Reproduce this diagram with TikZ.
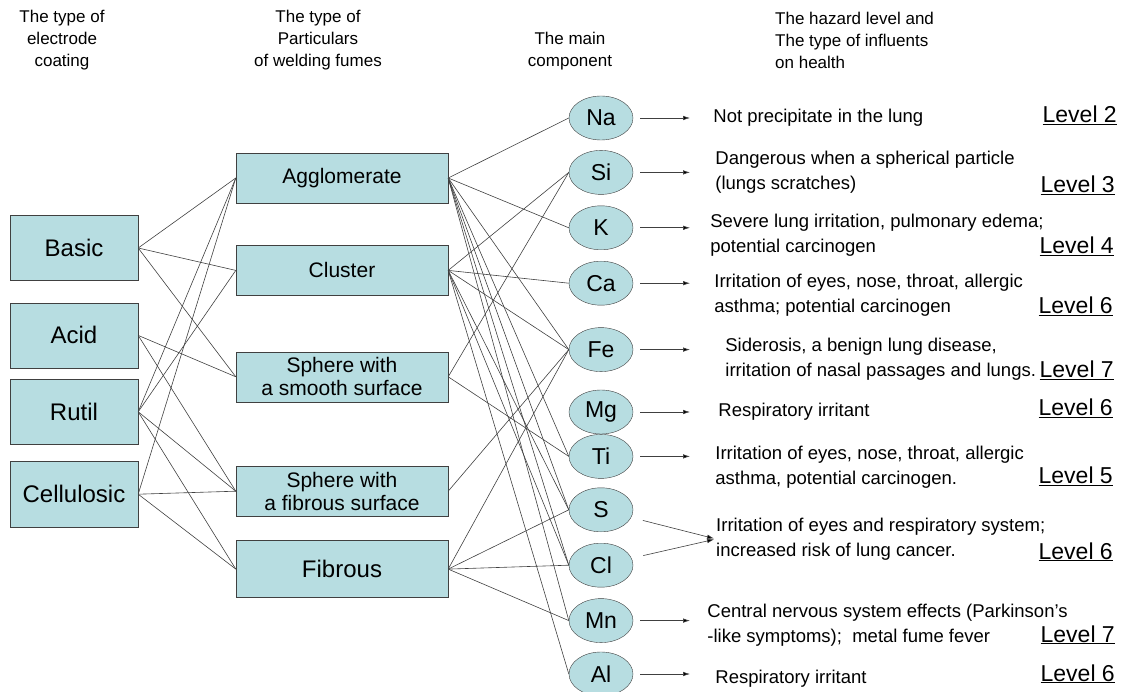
\documentclass[tikz,border=0pt]{standalone}
\usepackage{fontspec}
\setmainfont{Liberation Sans}
\usetikzlibrary{arrows,arrows.meta,positioning,shapes}
\definecolor{boxfill}{RGB}{183,221,225}
\tikzstyle{coating}=[rectangle,draw=black!75,fill=boxfill,minimum width=128pt,
minimum height=65pt,font=\fontsize{24}{28}\selectfont]
\tikzstyle{particle}=[rectangle,draw=black!75,fill=boxfill,minimum width=212pt,
minimum height=50pt,inner sep=2pt,align=center,font=\fontsize{21}{23}\selectfont]
\tikzstyle{element}=[ellipse,draw=black!75,fill=boxfill,minimum width=64pt,
minimum height=44pt,inner sep=0pt,font=\fontsize{23}{25}\selectfont]
\tikzstyle{effect}=[inner sep=0pt,align=left,font=\fontsize{18.5}{25}\selectfont]
\tikzstyle{level}=[inner sep=0pt,anchor=base east,font=\fontsize{23}{25}\selectfont]
\tikzstyle{header}=[inner sep=0pt,align=center,font=\fontsize{17}{22}\selectfont]
\tikzstyle{link}=[draw=black!75,line width=0.6pt]

\begin{document}
\begin{tikzpicture}[x=1pt,y=1pt,>={Latex[length=7pt,width=4.5pt]}]
            \useasboundingbox (0,0) rectangle (1133,-692);

            % HEADERS

            \node[header] (h1) at (62,-40) {The type of\\electrode\\coating};
            \node[header] (h2) at (318,-40) {The type of\\Particulars\\of welding fumes};
            \node[header] (h3) at (570,-51) {The main\\component};
            \node[header,align=left,anchor=west] (h4) at (775,-40) {The hazard level and\\The type of influents\\on health};

            % COATING PART

            \node[coating] (basic) at (74,-248) {Basic};
            \node[coating,below=22pt of basic] (acid) {Acid};
            \node[coating,below=11pt of acid] (rutil) {Rutil};
            \node[coating,below=17pt of rutil] (cellu) {Cellulosic};

            % PARTICLES PART

            \node[particle] (agglo) at (342,-178) {Agglomerate};
            \node[particle,below=42pt of agglo] (cluster) {Cluster};
            \node[particle,below=56pt of cluster] (smooth) {Sphere with\\a smooth surface};
            \node[particle,below=64pt of smooth] (fsurf) {Sphere with\\a fibrous surface};
            \node[particle,below=24pt of fsurf,minimum height=57pt,
                  font=\fontsize{24}{28}\selectfont] (fibrous) {Fibrous};

            % ELEMENTS PART

            \node[element] (na) at (601,-118) {Na};
            \node[element,below=10pt of na] (si) {Si};
            \node[element,below=11pt of si] (k) {K};
            \node[element,below=11pt of k] (ca) {Ca};
            \node[element,below=22pt of ca] (fe) {Fe};
            \node[element,below=18pt of fe] (mg) {Mg};
            \node[element,below=0pt of mg] (ti) {Ti};
            \node[element,below=9pt of ti] (s) {S};
            \node[element,below=11pt of s] (cl) {Cl};
            \node[element,below=11pt of cl] (mn) {Mn};
            \node[element,below=9pt of mn] (al) {Al};

            % EFFECTS PART

            \node[effect,right=80pt of na] (natext) {Not precipitate in the lung};
            \node[effect,right=82pt of si] (sitext) {Dangerous when a spherical particle\\(lungs scratches)};
            \node[effect,right=77pt of k,yshift=-7pt] (ktext) {Severe lung irritation, pulmonary edema;\\potential carcinogen};
            \node[effect,right=81pt of ca,yshift=-12pt] (catext) {Irritation of eyes, nose, throat, allergic\\asthma; potential carcinogen};
            \node[effect,right=92pt of fe,yshift=-10pt] (fetext) {Siderosis, a benign lung disease,\\irritation of nasal passages and lungs.};
            \node[effect,right=85pt of mg] (mgtext) {Respiratory irritant};
            \node[effect,right=82pt of ti,yshift=-11pt] (titext) {Irritation of eyes, nose, throat, allergic\\asthma, potential carcinogen.};
            \node[effect,anchor=west] (sctext) at (716,-539) {Irritation of eyes and respiratory system;\\increased risk of lung cancer.};
            \node[effect,right=74pt of mn,yshift=-5pt] (mntext) {Central nervous system effects (Parkinson’s\\-like symptoms);\ \ metal fume fever};
            \node[effect,right=82pt of al,yshift=-5pt] (altext) {Respiratory irritant};

            \node[level] (lvna) at (1117,-123) {\underline{Level 2}};
            \node[level] (lvsi) at (1115,-193) {\underline{Level 3}};
            \node[level] (lvk) at (1114,-254) {\underline{Level 4}};
            \node[level] (lvca) at (1113,-314) {\underline{Level 6}};
            \node[level] (lvfe) at (1114,-378) {\underline{Level 7}};
            \node[level] (lvmg) at (1113,-416) {\underline{Level 6}};
            \node[level] (lvti) at (1113,-484) {\underline{Level 5}};
            \node[level] (lvsc) at (1113,-559) {\underline{Level 6}};
            \node[level] (lvmn) at (1115,-642) {\underline{Level 7}};
            \node[level] (lval) at (1115,-681) {\underline{Level 6}};

            \coordinate (tip) at (690,0);

            \path[->,link,shorten <=7pt] (na) edge node {} (na -| tip);
            \path[->,link,shorten <=7pt] (si) edge node {} (si -| tip);
            \path[->,link,shorten <=7pt] (k) edge node {} (k -| tip);
            \path[->,link,shorten <=7pt] (ca) edge node {} (ca -| tip);
            \path[->,link,shorten <=7pt] (fe) edge node {} (fe -| tip);
            \path[->,link,shorten <=7pt] (mg) edge node {} (mg -| tip);
            \path[->,link,shorten <=7pt] (ti) edge node {} (ti -| tip);
            \path[->,link,shorten <=12pt,shorten >=2pt] (s) edge node {} (sctext.west);
            \path[->,link,shorten <=12pt,shorten >=2pt] (cl) edge node {} (sctext.west);
            \path[->,link,shorten <=7pt] (mn) edge node {} (mn -| tip);
            \path[->,link,shorten <=7pt] (al) edge node {} (al -| tip);

            % Coatings to particles

            \path[link] (basic.east) edge node {} (agglo.west);
            \path[link] (basic.east) edge node {} (cluster.west);
            \path[link] (basic.east) edge node {} (smooth.west);
            \path[link] (acid.east) edge node {} (smooth.west);
            \path[link] (acid.east) edge node {} (fsurf.west);
            \path[link] (rutil.east) edge node {} (agglo.west);
            \path[link] (rutil.east) edge node {} (cluster.west);
            \path[link] (rutil.east) edge node {} (fsurf.west);
            \path[link] (rutil.east) edge node {} (fibrous.west);
            \path[link] (cellu.east) edge node {} (agglo.west);
            \path[link] (cellu.east) edge node {} (fsurf.west);
            \path[link] (cellu.east) edge node {} (fibrous.west);

            % Particles to elements

            \path[link] (agglo.east) edge node {} (na.west);
            \path[link] (agglo.east) edge node {} (k.west);
            \path[link] (agglo.east) edge node {} (fe.west);
            \path[link] (agglo.east) edge node {} (ti.west);
            \path[link] (agglo.east) edge node {} (s.west);
            \path[link] (agglo.east) edge node {} (cl.west);
            \path[link] (agglo.east) edge node {} (mn.west);
            \path[link] (cluster.east) edge node {} (si.west);
            \path[link] (cluster.east) edge node {} (ca.west);
            \path[link] (cluster.east) edge node {} (fe.west);
            \path[link] (cluster.east) edge node {} (s.west);
            \path[link] (cluster.east) edge node {} (cl.west);
            \path[link] (cluster.east) edge node {} (al.west);
            \path[link] (smooth.east) edge node {} (si.west);
            \path[link] (smooth.east) edge node {} (ti.west);
            \path[link] (fsurf.east) edge node {} (fe.west);
            \path[link] (fibrous.east) edge node {} (fe.west);
            \path[link] (fibrous.east) edge node {} (s.west);
            \path[link] (fibrous.east) edge node {} (cl.west);
            \path[link] (fibrous.east) edge node {} (mn.west);

\end{tikzpicture}
\end{document}
